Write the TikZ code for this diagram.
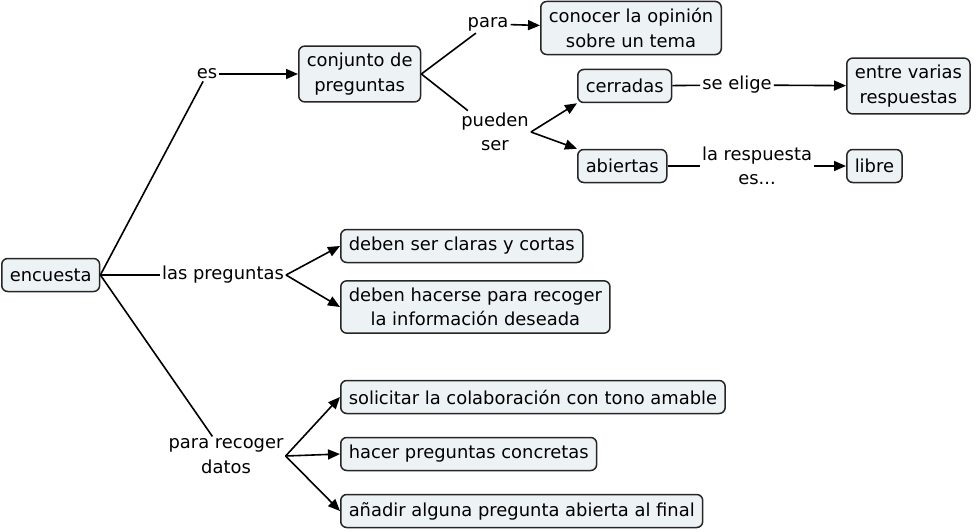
\documentclass[tikz,border=0pt]{standalone}
\usepackage{fontspec}
\setmainfont{DejaVu Sans}
\usetikzlibrary{arrows.meta}

\definecolor{conceptfill}{RGB}{237,242,244}

\begin{document}
\begin{tikzpicture}[x=1pt,y=-1pt,
    concept/.style={draw=black!85,line width=1.5pt,rounded corners=6pt,fill=conceptfill,
      align=center,inner xsep=8pt,inner ysep=7pt,minimum height=33pt,anchor=west,
      font=\fontsize{17.9}{24.5}\selectfont},
    linkword/.style={align=center,inner sep=2pt,font=\fontsize{17.9}{24.5}\selectfont},
    link/.style={line width=1.6pt},
    linkto/.style={line width=1.6pt,-{Triangle[length=12pt,width=10pt]}}]
  \useasboundingbox (0,0) rectangle (976,532);

  % concepts
  \node[concept] (encuesta) at (1,275) {encuesta};
  \node[concept] (conjunto) at (298,74) {conjunto de\\preguntas};
  \node[concept] (conocer) at (540,28) {conocer la opinión\\sobre un tema};
  \node[concept] (cerradas) at (577,86) {cerradas};
  \node[concept] (varias) at (846,86) {entre varias\\respuestas};
  \node[concept] (abiertas) at (577,166) {abiertas};
  \node[concept] (libre) at (846,166) {libre};
  \node[concept] (claras) at (340,246) {deben ser claras y cortas};
  \node[concept] (hacerse) at (340,307) {deben hacerse para recoger\\la información deseada};
  \node[concept] (solicitar) at (340,397) {solicitar la colaboración con tono amable};
  \node[concept] (concretas) at (340,454) {hacer preguntas concretas};
  \node[concept] (anadir) at (340,511) {añadir alguna pregunta abierta al final};

  % linking words
  \node[linkword] (es) at (207,74) {es};
  \node[linkword] (para) at (488,24) {para};
  \node[linkword] (pueden) at (495,132) {pueden\\ser};
  \node[linkword] (elige) at (737,85) {se elige};
  \node[linkword] (respuesta) at (757,166) {la respuesta\\es...};
  \node[linkword] (laspreg) at (223,275) {las preguntas};
  \node[linkword] (recoger) at (226,456) {para recoger\\datos};

  % connections
  \draw[link] (encuesta.east) -- (es);
  \draw[linkto] (es) -- (conjunto);
  \draw[link] (conjunto.east) -- (para);
  \draw[linkto] (para) -- (conocer);
  \draw[link] (conjunto.east) -- (pueden);
  \draw[linkto] (pueden.east) -- (cerradas.south west);
  \draw[linkto] (pueden.east) -- (abiertas.north west);
  \draw[link] (cerradas) -- (elige);
  \draw[linkto] (elige) -- (varias);
  \draw[link] (abiertas) -- (respuesta);
  \draw[linkto] (respuesta) -- (libre);

  \draw[link] (encuesta) -- (laspreg);
  \draw[linkto] (laspreg.east) -- (claras.west);
  \draw[linkto] (laspreg.east) -- (hacerse.west);

  \draw[link] (encuesta.east) -- (recoger);
  \draw[linkto] (recoger.east) -- (solicitar.west);
  \draw[linkto] (recoger.east) -- (concretas.west);
  \draw[linkto] (recoger.east) -- (anadir.west);
\end{tikzpicture}
\end{document}
